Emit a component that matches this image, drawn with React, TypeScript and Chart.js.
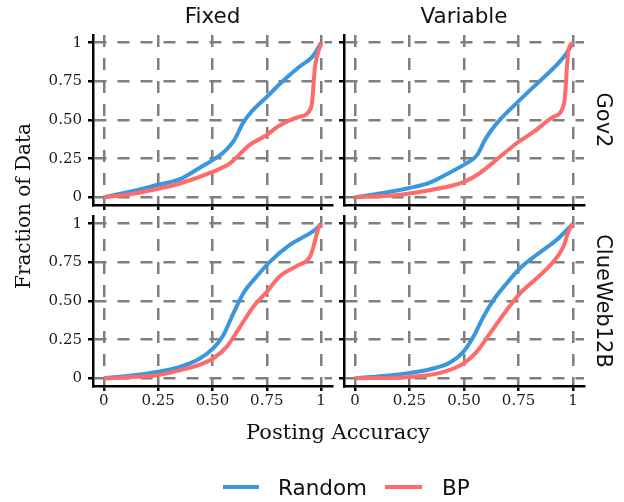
import React, { useEffect, useRef } from 'react';
import { Chart, registerables } from 'chart.js';

Chart.register(...registerables);

// ---------- data ----------
const TICK_VALUES = [0, 0.25, 0.5, 0.75, 1];
const TICK_LABELS = ['0', '0.25', '0.50', '0.75', '1'];
const COLUMN_TITLES = ['Fixed', 'Variable'];
const ROW_TITLES = ['Gov2', 'ClueWeb12B'];
const SERIES_NAMES = ['Random', 'BP'];
const SERIES_COLORS = ['#3A96DD', '#FF6B6B'];
const X_TITLE = 'Posting Accuracy';
const Y_TITLE = 'Fraction of Data';

// Gov2 / Fixed
const GOV2_FIXED_RANDOM_X = [0, 0.13, 0.24, 0.35, 0.44, 0.5, 0.55, 0.6, 0.64, 0.68, 0.75, 0.83, 0.9, 0.96, 1];
const GOV2_FIXED_RANDOM_Y = [0, 0.04, 0.078, 0.117, 0.19, 0.24, 0.29, 0.37, 0.48, 0.555, 0.65, 0.76, 0.845, 0.91, 1];
const GOV2_FIXED_BP_X = [0, 0.12, 0.24, 0.35, 0.5, 0.58, 0.67, 0.75, 0.8, 0.9, 0.955, 0.972, 1];
const GOV2_FIXED_BP_Y = [0, 0.02, 0.052, 0.089, 0.164, 0.219, 0.338, 0.403, 0.457, 0.521, 0.586, 0.846, 1];

// Gov2 / Variable
const GOV2_VAR_RANDOM_X = [0, 0.13, 0.25, 0.34, 0.44, 0.51, 0.56, 0.6, 0.65, 0.74, 0.82, 0.94, 0.97, 1];
const GOV2_VAR_RANDOM_Y = [0, 0.028, 0.06, 0.093, 0.164, 0.219, 0.273, 0.381, 0.478, 0.608, 0.716, 0.879, 0.933, 1];
const GOV2_VAR_BP_X = [0, 0.21, 0.36, 0.5, 0.57, 0.665, 0.74, 0.82, 0.91, 0.959, 0.979, 1];
const GOV2_VAR_BP_Y = [0, 0.017, 0.05, 0.1, 0.154, 0.262, 0.348, 0.424, 0.521, 0.608, 0.955, 1];

// ClueWeb12B / Fixed
const CW_FIXED_RANDOM_X = [0, 0.135, 0.243, 0.35, 0.442, 0.503, 0.55, 0.596, 0.642, 0.703, 0.765, 0.857, 0.972, 1];
const CW_FIXED_RANDOM_Y = [0, 0.019, 0.041, 0.074, 0.128, 0.193, 0.279, 0.42, 0.55, 0.658, 0.755, 0.864, 0.961, 1];
const CW_FIXED_BP_X = [0, 0.12, 0.243, 0.35, 0.442, 0.503, 0.565, 0.627, 0.688, 0.75, 0.811, 0.888, 0.949, 0.965, 0.988, 1];
const CW_FIXED_BP_Y = [0, 0.007, 0.019, 0.052, 0.089, 0.128, 0.203, 0.333, 0.463, 0.56, 0.662, 0.727, 0.788, 0.853, 0.972, 1];

// ClueWeb12B / Variable
const CW_VAR_RANDOM_X = [0, 0.13, 0.252, 0.359, 0.436, 0.497, 0.543, 0.589, 0.635, 0.696, 0.757, 0.833, 0.925, 1];
const CW_VAR_RANDOM_Y = [0, 0.015, 0.035, 0.063, 0.102, 0.171, 0.268, 0.398, 0.506, 0.615, 0.712, 0.799, 0.896, 1];
const CW_VAR_BP_X = [0, 0.252, 0.39, 0.497, 0.558, 0.619, 0.696, 0.757, 0.833, 0.91, 0.956, 0.979, 1];
const CW_VAR_BP_Y = [0, 0.009, 0.035, 0.095, 0.171, 0.29, 0.442, 0.55, 0.647, 0.755, 0.853, 0.95, 1];

// ---------- layout ----------
const W = 624;
const H = 502;
const COL_BOUNDS = [[93, 332], [344, 584]];
const ROW_BOUNDS = [[35, 205], [216, 386]];

const PANELS = [
  { row: 0, col: 0, rx: GOV2_FIXED_RANDOM_X, ry: GOV2_FIXED_RANDOM_Y, bx: GOV2_FIXED_BP_X, by: GOV2_FIXED_BP_Y },
  { row: 0, col: 1, rx: GOV2_VAR_RANDOM_X, ry: GOV2_VAR_RANDOM_Y, bx: GOV2_VAR_BP_X, by: GOV2_VAR_BP_Y },
  { row: 1, col: 0, rx: CW_FIXED_RANDOM_X, ry: CW_FIXED_RANDOM_Y, bx: CW_FIXED_BP_X, by: CW_FIXED_BP_Y },
  { row: 1, col: 1, rx: CW_VAR_RANDOM_X, ry: CW_VAR_RANDOM_Y, bx: CW_VAR_BP_X, by: CW_VAR_BP_Y },
];

const SANS = '"DejaVu Sans", sans-serif';
const SERIF = '"DejaVu Serif", serif';

function zip(xs: number[], ys: number[]) {
  return xs.map((x, i) => ({ x, y: ys[i] }));
}

function buildConfig(p: any): any {
  const showX = p.row === 1;
  const showY = p.col === 0;
  const [L, R] = COL_BOUNDS[p.col];
  const [T, B] = ROW_BOUNDS[p.row];
  const yW = showY ? 50 : 8;
  const xH = showX ? 30 : 8;
  const grid = {
    color: '#7f7f7f',
    lineWidth: 2.5,
    drawTicks: true,
    tickLength: 5,
    tickColor: '#000',
    tickWidth: 2.5,
    tickBorderDash: [],
  };
  const border = { display: true, color: '#000', width: 2.5, dash: [12, 11] };
  const tickFont = { family: SERIF, size: 15 };
  const zeroPad = (s: any) => {
    s.paddingLeft = 0;
    s.paddingRight = 0;
    s.paddingTop = 0;
    s.paddingBottom = 0;
  };
  return {
    type: 'line',
    data: {
      datasets: [
        {
          label: SERIES_NAMES[0],
          data: zip(p.rx, p.ry),
          borderColor: SERIES_COLORS[0],
          backgroundColor: SERIES_COLORS[0],
          borderWidth: 4,
          pointRadius: 0,
          cubicInterpolationMode: 'monotone',
          fill: false,
          order: 1,
        },
        {
          label: SERIES_NAMES[1],
          data: zip(p.bx, p.by),
          borderColor: SERIES_COLORS[1],
          backgroundColor: SERIES_COLORS[1],
          borderWidth: 4,
          pointRadius: 0,
          cubicInterpolationMode: 'monotone',
          fill: false,
          order: 0,
        },
      ],
    },
    options: {
      responsive: false,
      animation: false,
      devicePixelRatio: 1,
      layout: {
        padding: { left: L - yW, top: T, right: W - R, bottom: H - B - xH },
      },
      plugins: { legend: { display: false }, tooltip: { enabled: false }, title: { display: false } },
      events: [],
      scales: {
        x: {
          type: 'linear',
          min: -0.05,
          max: 1.05,
          afterBuildTicks: (s: any) => {
            s.ticks = TICK_VALUES.map((v) => ({ value: v }));
          },
          afterFit: (s: any) => {
            s.height = xH;
            zeroPad(s);
          },
          ticks: {
            display: showX,
            autoSkip: false,
            maxRotation: 0,
            minRotation: 0,
            padding: 1,
            color: '#1a1a1a',
            font: tickFont,
            callback: (_v: any, i: number) => TICK_LABELS[i],
          },
          grid,
          border,
        },
        y: {
          type: 'linear',
          min: -0.05,
          max: 1.05,
          afterBuildTicks: (s: any) => {
            s.ticks = TICK_VALUES.map((v) => ({ value: v }));
          },
          afterFit: (s: any) => {
            s.width = yW;
            zeroPad(s);
          },
          ticks: {
            display: showY,
            autoSkip: false,
            padding: 6,
            color: '#1a1a1a',
            font: tickFont,
            callback: (_v: any, i: number) => TICK_LABELS[i],
          },
          grid,
          border,
        },
      },
    },
  };
}

export default function App() {
  const refs = [useRef<HTMLCanvasElement>(null), useRef<HTMLCanvasElement>(null), useRef<HTMLCanvasElement>(null), useRef<HTMLCanvasElement>(null)];

  useEffect(() => {
    const charts = PANELS.map((p, i) => new Chart(refs[i].current as HTMLCanvasElement, buildConfig(p)));
    return () => charts.forEach((c) => c.destroy());
  }, []);

  const text = (style: React.CSSProperties, content: string, key: string) => (
    <div key={key} style={{ position: 'absolute', whiteSpace: 'nowrap', lineHeight: 1, color: '#111', ...style }}>
      {content}
    </div>
  );

  const colCenters = COL_BOUNDS.map(([a, b]) => (a + b) / 2);
  const rowCenters = ROW_BOUNDS.map(([a, b]) => (a + b) / 2);

  return (
    <div style={{ position: 'fixed', left: 0, top: 0, width: W, height: H, background: '#fff', overflow: 'hidden' }}>
      {refs.map((r, i) => (
        <canvas key={'c' + i} ref={r} width={W} height={H} style={{ position: 'absolute', left: 0, top: 0, width: W, height: H }} />
      ))}
      {COLUMN_TITLES.map((t, i) =>
        text({ left: colCenters[i], top: 4.8, transform: 'translateX(-50%)', fontFamily: SANS, fontSize: 21.5 }, t, 'col' + i)
      )}
      {ROW_TITLES.map((t, i) =>
        text(
          { left: 603, top: rowCenters[i], transform: 'translate(-50%, -50%) rotate(90deg)', fontFamily: SANS, fontSize: 21 },
          t,
          'row' + i
        )
      )}
      {text({ left: 338, top: 422, transform: 'translateX(-50%)', fontFamily: SERIF, fontSize: 21 }, X_TITLE, 'xt')}
      {text({ left: 23, top: 206, transform: 'translate(-50%, -50%) rotate(-90deg)', fontFamily: SERIF, fontSize: 20 }, Y_TITLE, 'yt')}
      {/* legend */}
      <div style={{ position: 'absolute', left: 223, top: 485, width: 36, height: 4, background: SERIES_COLORS[0] }} />
      {text({ left: 278, top: 477, fontFamily: SANS, fontSize: 21.5 }, SERIES_NAMES[0], 'l0')}
      <div style={{ position: 'absolute', left: 385, top: 485, width: 37, height: 4, background: SERIES_COLORS[1] }} />
      {text({ left: 442, top: 477, fontFamily: SANS, fontSize: 21.5 }, SERIES_NAMES[1], 'l1')}
    </div>
  );
}
